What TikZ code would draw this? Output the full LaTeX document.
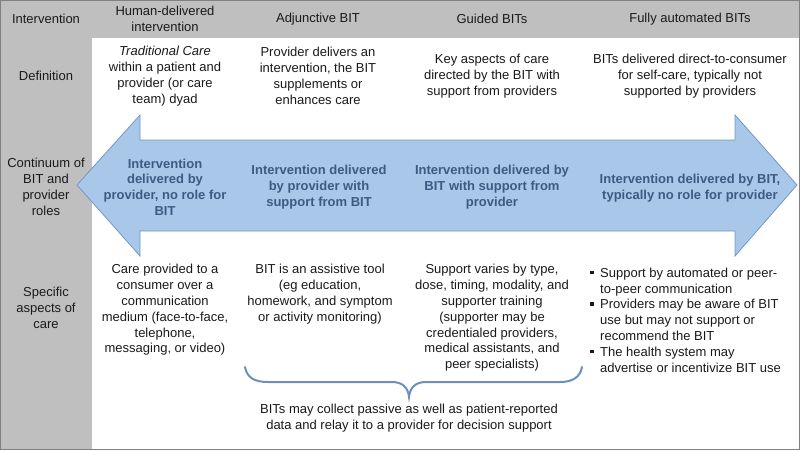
\documentclass[tikz,border=0pt]{standalone}
\usepackage{fontspec}
\setmainfont{Liberation Sans}
\definecolor{panelgray}{HTML}{BFBFBF}
\definecolor{framegray}{HTML}{808080}
\definecolor{arrowfill}{HTML}{A9C7E8}
\definecolor{arrowline}{HTML}{7397C4}
\definecolor{arrowtext}{HTML}{3B5B82}
\definecolor{bracec}{HTML}{6B90BF}
\definecolor{textc}{HTML}{1A1A1A}
\newcommand{\bulmark}{\makebox[10pt][l]{\rule[3pt]{3.6pt}{3.6pt}}}
\tikzset{
  txt/.style={font=\fontsize{13}{15.8}\selectfont, align=center, text=textc, inner sep=0pt},
  boldtxt/.style={txt, font=\fontsize{13}{15.8}\selectfont\bfseries, text=arrowtext},
}
\begin{document}
\begin{tikzpicture}[x=1pt,y=-1pt]
\useasboundingbox (0,0) rectangle (800,450);
% background panels
\fill[white] (0,0) rectangle (800,450);
\fill[panelgray] (0,0) rectangle (800,38);
\fill[panelgray] (0,0) rectangle (92,450);
\draw[framegray, line width=1pt] (0.5,0.5) rectangle (799.5,449.5);
% double arrow
\draw[arrowline, fill=arrowfill, line width=0.8pt, line join=miter]
  (77,185) -- (140,115) -- (140,140) -- (735,140) -- (735,115) -- (797,185)
  -- (735,256) -- (735,231) -- (140,231) -- (140,256) -- cycle;
% header
\node[txt] (hInt) at (46,19) {Intervention};
\node[txt] (hHum) at (165,19) {Human-delivered\\intervention};
\node[txt] (hAdj) at (318,19) {Adjunctive BIT};
\node[txt] (hGui) at (492,19) {Guided BITs};
\node[txt] (hFul) at (690,19) {Fully automated BITs};
% definition row
\node[txt] (lDef) at (46,76) {Definition};
\node[txt] (d1) at (165,76) {\textit{Traditional Care}\\within a patient and\\provider (or care\\team) dyad};
\node[txt] (d2) at (318,76) {Provider delivers an\\intervention, the BIT\\supplements or\\enhances care};
\node[txt] (d3) at (492,76) {Key aspects of care\\directed by the BIT with\\support from providers};
\node[txt] (d4) at (690,76) {BITs delivered direct-to-consumer\\for self-care, typically not\\supported by providers};
% continuum row
\node[txt] (lCon) at (46,187) {Continuum of\\BIT and\\provider\\roles};
\node[boldtxt] (a1) at (165,187) {Intervention\\delivered by\\provider, no role for\\BIT};
\node[boldtxt] (a2) at (319,187) {Intervention delivered\\by provider with\\support from BIT};
\node[boldtxt] (a3) at (492,187) {Intervention delivered by\\BIT with support from\\provider};
\node[boldtxt] (a4) at (690,188) {Intervention delivered by BIT,\\typically no role for provider};
% specific aspects row
\node[txt] (lSpe) at (46,308) {Specific\\aspects of\\care};
\node[txt] (s1) at (165,310) {Care provided to a\\consumer over a\\communication\\medium (face-to-face,\\telephone,\\messaging, or video)};
\node[txt] (s2) at (320,294) {BIT is an assistive tool\\(eg education,\\homework, and symptom\\or activity monitoring)};
\node[txt] (s3) at (492,318) {Support varies by type,\\dose, timing, modality, and\\supporter training\\(supporter may be\\credentialed providers,\\medical assistants, and\\peer specialists)};
\node[txt, align=left, anchor=west] (s4) at (590,320) {\bulmark Support by automated or peer-\\\hphantom{\bulmark}to-peer communication\\\bulmark Providers may be aware of BIT\\\hphantom{\bulmark}use but may not support or\\\hphantom{\bulmark}recommend the BIT\\\bulmark The health system may\\\hphantom{\bulmark}advertise or incentivize BIT use};
% brace
\draw[bracec, line width=2pt, line cap=round]
  (245,367) .. controls (247,378) and (255,382) .. (268,382) -- (392,382)
  .. controls (402,382) and (408,387) .. (409,397)
  .. controls (410,387) and (416,382) .. (426,382) -- (560,382)
  .. controls (573,382) and (580,377) .. (582,367);
\node[txt] (bNote) at (409,418) {BITs may collect passive as well as patient-reported\\data and relay it to a provider for decision support};
\end{tikzpicture}
\end{document}
